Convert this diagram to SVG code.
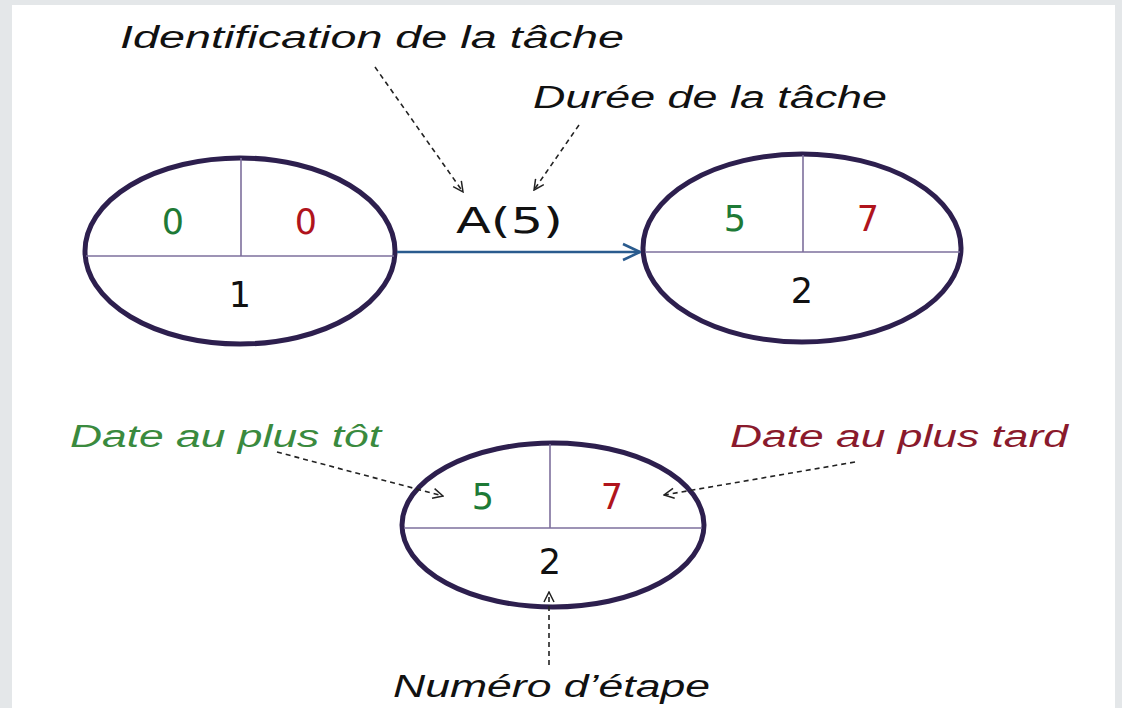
<svg xmlns="http://www.w3.org/2000/svg" width="1122" height="708" viewBox="0 0 1122 708">
<defs>
<style>
.ring{fill:none;stroke:#2d1f4e;stroke-width:5}
.div{stroke:#7d6f9c;stroke-width:1.6}
.num{font-family:"DejaVu Sans","Liberation Sans",Arial,sans-serif;font-size:35px;text-anchor:middle}
.g{fill:#1e7a36}
.r{fill:#b0141c}
.k{fill:#111}
.lab{font-family:"Liberation Sans",Arial,sans-serif;font-style:italic;font-size:31px}
.dash{fill:none;stroke:#222;stroke-width:1.6;stroke-dasharray:5 4;marker-end:url(#open)}
</style>
<marker id="open" viewBox="0 0 12 12" refX="11" refY="6" markerWidth="12" markerHeight="12" markerUnits="userSpaceOnUse" orient="auto">
<path d="M1,1 L11,6 L1,11" fill="none" stroke="#222" stroke-width="1.5"/>
</marker>
<marker id="blue" viewBox="0 0 20 20" refX="19" refY="10" markerWidth="20" markerHeight="20" markerUnits="userSpaceOnUse" orient="auto">
<path d="M2,2 L19,10 L2,18" fill="none" stroke="#2a5b8e" stroke-width="2.5"/>
</marker>
</defs>
<rect x="0" y="0" width="1122" height="708" fill="#e4e7e9"/>
<rect x="12" y="5" width="1103" height="703" fill="#ffffff"/>

<g id="node1">
<ellipse class="ring" cx="240" cy="251" rx="155" ry="93"/>
<line class="div" x1="86" y1="256" x2="394" y2="256"/>
<line class="div" x1="241" y1="158" x2="241" y2="256"/>
<text class="num g" x="173" y="234">0</text>
<text class="num r" x="306" y="234">0</text>
<text class="num k" x="240" y="307">1</text>
</g>

<g id="node2">
<ellipse class="ring" cx="802" cy="248" rx="159" ry="94"/>
<line class="div" x1="645" y1="252" x2="960" y2="252"/>
<line class="div" x1="803" y1="155" x2="803" y2="252"/>
<text class="num g" x="735" y="231">5</text>
<text class="num r" x="868" y="231">7</text>
<text class="num k" x="802" y="303">2</text>
</g>

<g id="legend-node">
<ellipse class="ring" cx="553" cy="525" rx="151" ry="82"/>
<line class="div" x1="404" y1="528" x2="702" y2="528"/>
<line class="div" x1="550" y1="444" x2="550" y2="528"/>
<text class="num g" x="483" y="509">5</text>
<text class="num r" x="612" y="509">7</text>
<text class="num k" x="550" y="574">2</text>
</g>

<g id="labels">
<text class="lab k" x="120" y="48" textLength="504" lengthAdjust="spacingAndGlyphs">Identification de la tâche</text>
<text class="lab k" x="533" y="108" textLength="354" lengthAdjust="spacingAndGlyphs">Durée de la tâche</text>
<text class="lab" fill="#3a8a3e" x="70" y="447" textLength="311" lengthAdjust="spacingAndGlyphs">Date au plus tôt</text>
<text class="lab" fill="#8a1a2c" x="730" y="447" textLength="338" lengthAdjust="spacingAndGlyphs">Date au plus tard</text>
<text class="lab k" x="393" y="697" textLength="317" lengthAdjust="spacingAndGlyphs">Numéro d’étape</text>
<text class="num k" x="456" y="233" style="text-anchor:start" font-size="35" textLength="107" lengthAdjust="spacingAndGlyphs">A(5)</text>
</g>

<g id="connectors">
<line x1="397" y1="252" x2="640" y2="252" stroke="#2a5b8e" stroke-width="2.5" marker-end="url(#blue)"/>
<line class="dash" x1="375" y1="67" x2="463" y2="192"/>
<line class="dash" x1="579" y1="125" x2="534" y2="190"/>
<line class="dash" x1="277" y1="452" x2="443" y2="496"/>
<line class="dash" x1="855" y1="462" x2="664" y2="495"/>
<line class="dash" x1="549" y1="665" x2="549" y2="592"/>
</g>
</svg>
